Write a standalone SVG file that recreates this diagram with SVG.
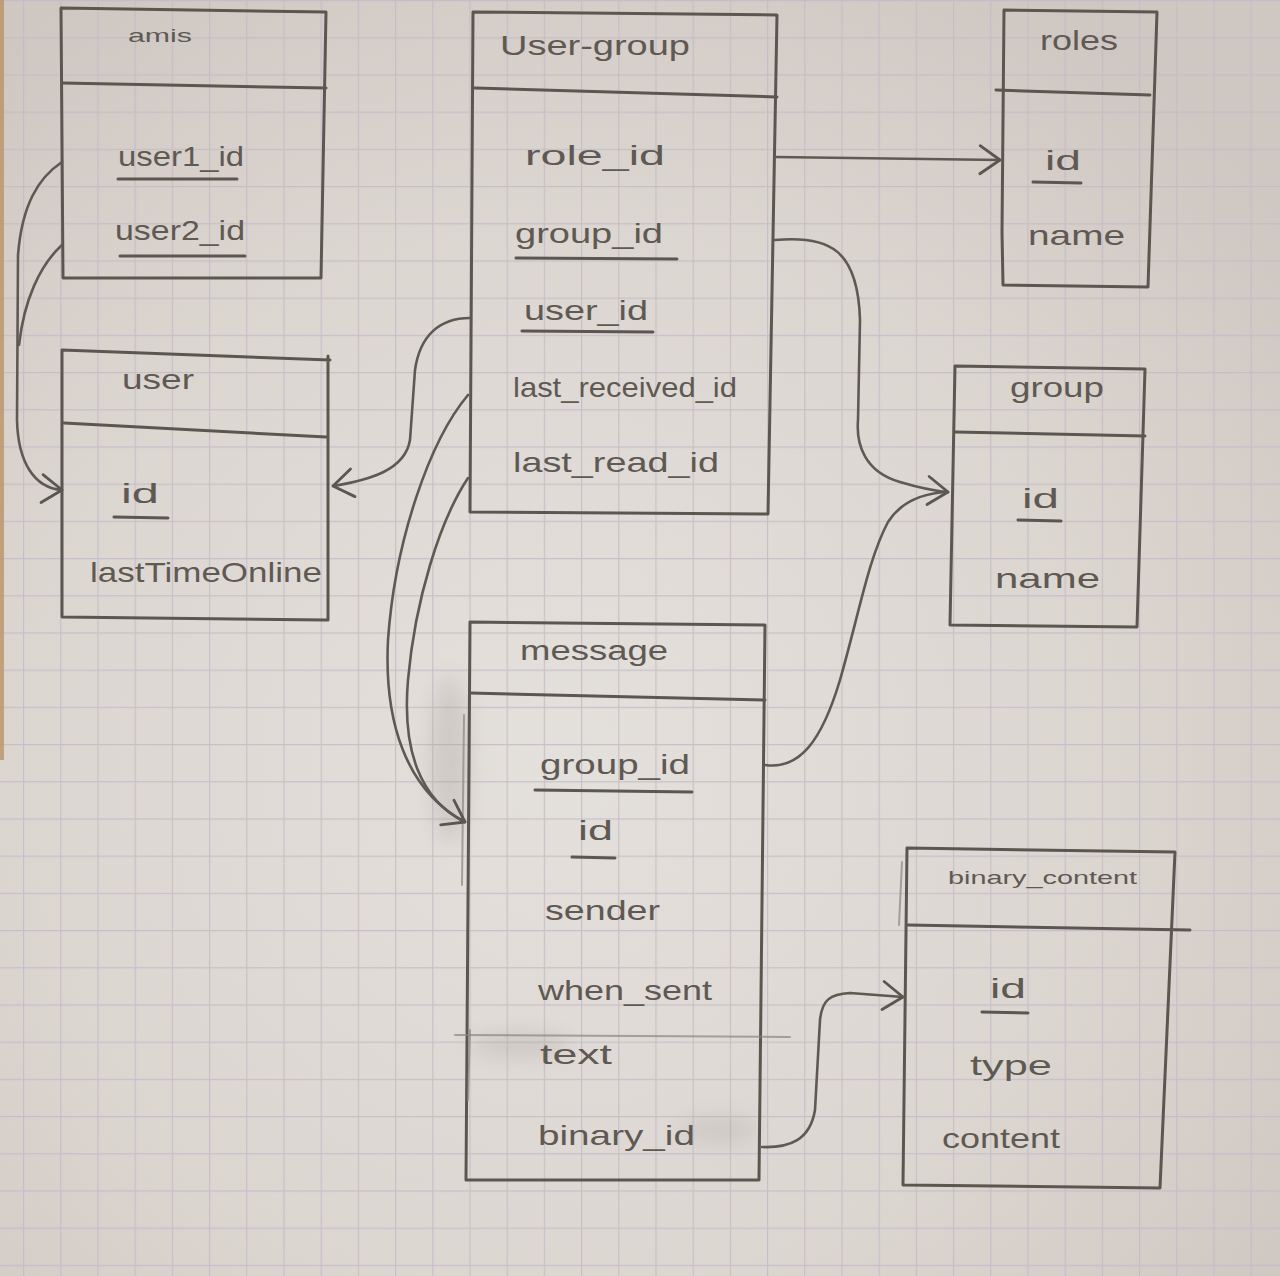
<svg xmlns="http://www.w3.org/2000/svg" width="1280" height="1276" viewBox="0 0 1280 1276">
  <defs>
    <radialGradient id="paper" cx="560" cy="760" r="900" gradientUnits="userSpaceOnUse">
      <stop offset="0" stop-color="#e4e0dc"/>
      <stop offset="0.6" stop-color="#dcd6d1"/>
      <stop offset="1" stop-color="#cfc7c2"/>
    </radialGradient>
    <pattern id="grid" x="23" y="0" width="37.2" height="37.2" patternUnits="userSpaceOnUse">
      <path d="M0,0.6 H37.2 M0.6,0 V37.2" fill="none" stroke="#c3bbc5" stroke-width="1.2"/>
    </pattern>
    <filter id="smudge" x="-50%" y="-50%" width="200%" height="200%">
      <feGaussianBlur stdDeviation="10"/>
    </filter>
    <marker id="chev" viewBox="0 0 12 16" refX="11" refY="8" markerWidth="12" markerHeight="16" markerUnits="userSpaceOnUse" orient="auto" overflow="visible">
      <path d="M-9,-6 L11,8 L-9,22" fill="none" stroke="#5b5650" stroke-width="2.8" stroke-linecap="round" stroke-linejoin="round"/>
    </marker>
  </defs>
  <style>
    .box { fill: none; stroke: #5b5650; stroke-width: 3; stroke-linecap: round; stroke-linejoin: round; }
    .ul { fill: none; stroke: #5b5650; stroke-width: 3; stroke-linecap: round; }
    .conn { fill: none; stroke: #5e5953; stroke-width: 2.6; stroke-linecap: round; stroke-linejoin: round; }
    .faint { fill: none; stroke: #8a847e; stroke-width: 2; stroke-linecap: round; opacity: 0.7; }
    text { font-family: "Liberation Sans", "DejaVu Sans", sans-serif; fill: #5f5953; font-size: 28px; }
    .title { font-size: 27px; }
    .small { font-size: 19px; }
  </style>

  <!-- sheet of squared paper -->
  <rect width="1280" height="1276" fill="url(#paper)"/>
  <rect width="1280" height="1276" fill="url(#grid)" opacity="0.85"/>
  <rect x="0" y="0" width="4" height="760" fill="#b99468" opacity="0.8"/>

  <!-- pencil smudges next to the message table -->
  <g opacity="0.22" filter="url(#smudge)">
    <ellipse cx="450" cy="760" rx="20" ry="85" fill="#8c867f"/>
    <ellipse cx="520" cy="1045" rx="50" ry="12" fill="#8c867f"/>
    <ellipse cx="720" cy="1130" rx="40" ry="14" fill="#9a948d"/>
  </g>

  <!-- amis -->
  <g id="amis">
    <path class="box" d="M61,8 L326,12 L321,278 L63,278 Z"/>
    <path class="box" d="M62,83 L326,88"/>
    <text class="small" x="128" y="42" textLength="64" lengthAdjust="spacingAndGlyphs">amis</text>
    <text x="118" y="166" textLength="126" lengthAdjust="spacingAndGlyphs">user1_id</text>
    <path class="ul" d="M118,179 L237,179"/>
    <text x="115" y="240" textLength="130" lengthAdjust="spacingAndGlyphs">user2_id</text>
    <path class="ul" d="M120,256 L245,256"/>
  </g>

  <!-- user -->
  <g id="user">
    <path class="box" d="M62,350 L330,360 M328,356 L328,620 L62,617 L62,350"/>
    <path class="box" d="M64,423 L326,437"/>
    <text class="title" x="122" y="389" textLength="72" lengthAdjust="spacingAndGlyphs">user</text>
    <text x="121" y="503" textLength="38" lengthAdjust="spacingAndGlyphs">id</text>
    <path class="ul" d="M114,517 L168,518"/>
    <text x="90" y="582" textLength="232" lengthAdjust="spacingAndGlyphs">lastTimeOnline</text>
  </g>

  <!-- user_group -->
  <g id="user_group">
    <path class="box" d="M473,12 L777,15 L768,514 L470,512 Z"/>
    <path class="box" d="M475,88 L777,97"/>
    <text class="title" x="500" y="55" textLength="190" lengthAdjust="spacingAndGlyphs">User-group</text>
    <text x="525" y="165" textLength="140" lengthAdjust="spacingAndGlyphs">role_id</text>
    <text x="515" y="243" textLength="148" lengthAdjust="spacingAndGlyphs">group_id</text>
    <path class="ul" d="M516,258 L677,259"/>
    <text x="524" y="320" textLength="124" lengthAdjust="spacingAndGlyphs">user_id</text>
    <path class="ul" d="M522,331 L653,332"/>
    <text x="513" y="397" textLength="224" lengthAdjust="spacingAndGlyphs">last_received_id</text>
    <text x="513" y="472" textLength="206" lengthAdjust="spacingAndGlyphs">last_read_id</text>
  </g>

  <!-- roles -->
  <g id="roles">
    <path class="box" d="M1004,10 L1157,12 L1148,287 L1003,285 L1002,232 L1004,10"/>
    <path class="box" d="M996,90 L1150,95"/>
    <text class="title" x="1040" y="50" textLength="78" lengthAdjust="spacingAndGlyphs">roles</text>
    <text x="1045" y="170" textLength="36" lengthAdjust="spacingAndGlyphs">id</text>
    <path class="ul" d="M1033,182 L1081,183"/>
    <text x="1028" y="245" textLength="97" lengthAdjust="spacingAndGlyphs">name</text>
  </g>

  <!-- group -->
  <g id="group">
    <path class="box" d="M955,366 L1145,369 L1137,627 L950,625 Z"/>
    <path class="box" d="M955,432 L1145,436"/>
    <text class="title" x="1010" y="397" textLength="94" lengthAdjust="spacingAndGlyphs">group</text>
    <text x="1022" y="508" textLength="37" lengthAdjust="spacingAndGlyphs">id</text>
    <path class="ul" d="M1018,520 L1061,521"/>
    <text x="995" y="588" textLength="105" lengthAdjust="spacingAndGlyphs">name</text>
  </g>

  <!-- message -->
  <g id="message">
    <path class="box" d="M470,622 L765,625 L759,1180 L466,1180 Z"/>
    <path class="box" d="M470,693 L765,700"/>
    <path class="faint" d="M464,715 L462,885 M470,1030 L468,1100"/>
    <path class="faint" d="M455,1035 L790,1037" opacity="0.35"/>
    <text class="title" x="520" y="660" textLength="148" lengthAdjust="spacingAndGlyphs">message</text>
    <text x="540" y="774" textLength="150" lengthAdjust="spacingAndGlyphs">group_id</text>
    <path class="ul" d="M535,790 L692,792"/>
    <text x="578" y="840" textLength="35" lengthAdjust="spacingAndGlyphs">id</text>
    <path class="ul" d="M572,857 L615,858"/>
    <text x="545" y="920" textLength="115" lengthAdjust="spacingAndGlyphs">sender</text>
    <text x="538" y="1000" textLength="174" lengthAdjust="spacingAndGlyphs">when_sent</text>
    <text x="540" y="1064" textLength="72" lengthAdjust="spacingAndGlyphs">text</text>
    <text x="538" y="1145" textLength="157" lengthAdjust="spacingAndGlyphs">binary_id</text>
  </g>

  <!-- binary_content -->
  <g id="binary_content">
    <path class="box" d="M907,848 L1175,852 L1160,1188 L903,1185 Z"/>
    <path class="box" d="M908,925 L1190,930"/>
    <path class="faint" d="M902,862 L899,925"/>
    <text class="small" x="948" y="884" textLength="189" lengthAdjust="spacingAndGlyphs">binary_content</text>
    <text x="990" y="998" textLength="36" lengthAdjust="spacingAndGlyphs">id</text>
    <path class="ul" d="M982,1012 L1028,1013"/>
    <text x="970" y="1075" textLength="82" lengthAdjust="spacingAndGlyphs">type</text>
    <text x="942" y="1148" textLength="118" lengthAdjust="spacingAndGlyphs">content</text>
  </g>

  <!-- foreign key links -->
  <g id="connectors">
    <path class="conn" d="M62,162 C38,178 22,205 18,255 L17,420 C18,462 34,488 62,490" marker-end="url(#chev)"/>
    <path class="conn" d="M62,245 C40,265 24,300 19,345"/>
    <path class="conn" d="M470,318 C440,318 420,335 415,370 L410,440 C405,470 370,480 333,486" marker-end="url(#chev)"/>
    <path class="conn" d="M468,395 C430,440 395,540 388,640 C384,720 405,790 465,822" marker-end="url(#chev)"/>
    <path class="conn" d="M468,478 C440,520 415,600 408,680 C402,750 420,800 465,822"/>
    <path class="conn" d="M776,157 L1000,160" marker-end="url(#chev)"/>
    <path class="conn" d="M775,240 C830,235 858,250 860,320 L858,420 C856,445 865,472 900,482 C920,488 935,491 948,492" marker-end="url(#chev)"/>
    <path class="conn" d="M765,765 C800,770 822,740 840,680 C860,610 868,560 888,522 C902,500 925,493 948,492"/>
    <path class="conn" d="M762,1147 C790,1148 810,1140 815,1110 L820,1020 C822,1000 830,994 850,993 L903,997" marker-end="url(#chev)"/>
  </g>
</svg>
